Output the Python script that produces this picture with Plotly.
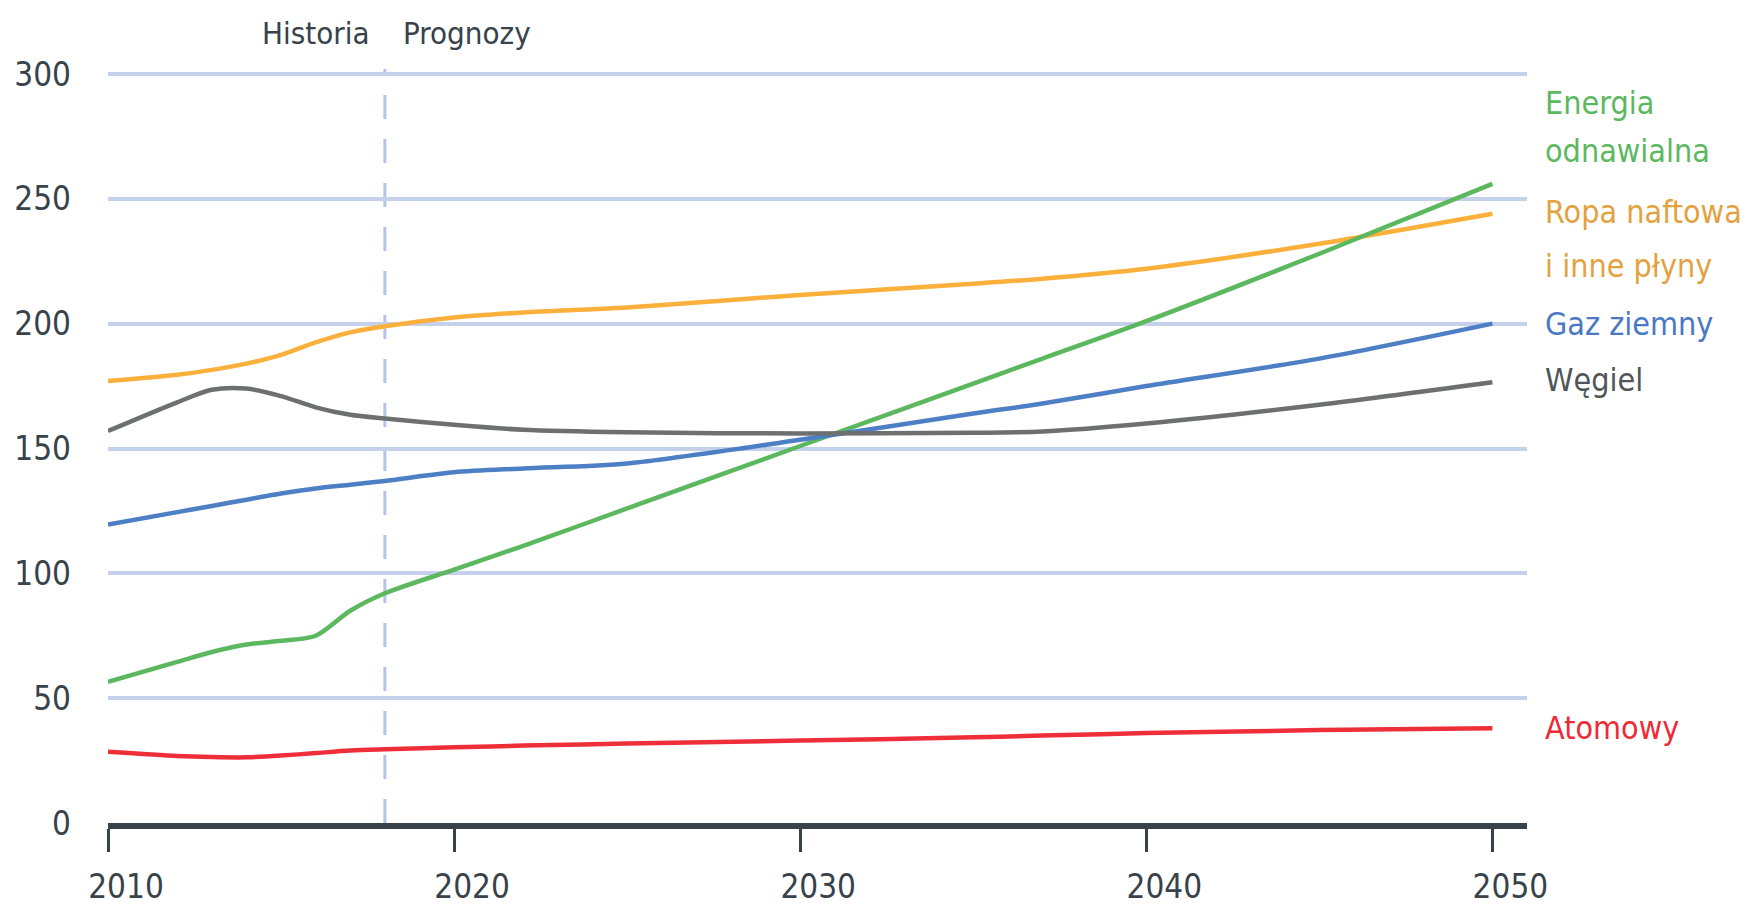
import plotly.graph_objects as go

# ---- data ----
years = [2010, 2012, 2013, 2014, 2015, 2016, 2017, 2018, 2020, 2022, 2025, 2030, 2035, 2037, 2040, 2045, 2050]
ropa = [177, 179.5, 181.5, 184, 187.5, 192.5, 196.5, 199, 202.5, 204.5, 206.5, 211.5, 216, 218, 222, 232, 244]
odnawialna = [56.5, 64.5, 68.5, 71.5, 73, 75, 85, 92, 101.5, 111, 126, 151, 176, 186, 201, 228, 256]
gaz = [119.5, 124.5, 127, 129.5, 132, 134, 135.5, 137, 140.5, 142, 144, 153.5, 164, 168, 175, 186, 200]
wegiel = [157, 168.5, 173.5, 174, 171, 166.5, 163.5, 162, 159.5, 157.5, 156.5, 156, 156.3, 156.8, 160, 167.5, 176.5]
atomowy = [28.5, 26.8, 26.4, 26.3, 27, 28, 29, 29.5, 30.3, 31, 31.8, 33, 34.3, 35, 36, 37.2, 38]

series_names = ["Ropa naftowa", "Energia odnawialna", "Gaz ziemny", "Węgiel", "Atomowy"]
series_values = [ropa, odnawialna, gaz, wegiel, atomowy]
series_colors = ["#fbb03b", "#5cb85f", "#4d7fc4", "#6e6f71", "#ee2f3a"]

# right-hand labels, one entry per text line
label_lines = ["Energia", "odnawialna", "Ropa naftowa", "i inne płyny", "Gaz ziemny", "Węgiel", "Atomowy"]
label_colors = ["#5cb85f", "#5cb85f", "#e2a240", "#e2a240", "#4a78c4", "#505558", "#ee2a35"]
label_y = [288.4, 269.2, 244.8, 223.2, 200, 177.4, 38]

x_ticks = [2010, 2020, 2030, 2040, 2050]
y_ticks = [0, 50, 100, 150, 200, 250, 300]
split_year = 2018
header_left = "Historia"
header_right = "Prognozy"

FONT = "DejaVu Sans Condensed, Liberation Sans Narrow, Arial Narrow, sans-serif"
DARK = "#37424a"

fig = go.Figure()
for name, vals, col in zip(series_names, series_values, series_colors):
    fig.add_trace(go.Scatter(
        x=years, y=vals, mode="lines", name=name,
        line=dict(color=col, width=4.5, shape="spline", smoothing=0.8),
        hoverinfo="x+y+name",
    ))

# dashed split line
fig.add_shape(type="line", xref="x", yref="y", x0=split_year, x1=split_year, y0=0, y1=304,
              line=dict(color="#b3c4e6", width=3, dash="24px,20px"), layer="below")

# right labels
for txt, col, yv in zip(label_lines, label_colors, label_y):
    fig.add_annotation(xref="paper", yref="y", x=1, y=yv, xshift=16, text=txt,
                       showarrow=False, xanchor="left", yanchor="middle", align="left",
                       font=dict(family=FONT, size=32, color=col))

# headers
fig.add_annotation(xref="x", yref="paper", x=split_year, y=1, yshift=36, xshift=-13, text=header_left,
                   showarrow=False, xanchor="right", yanchor="middle",
                   font=dict(family=FONT, size=31, color=DARK))
fig.add_annotation(xref="x", yref="paper", x=split_year, y=1, yshift=36, xshift=16, text=header_right,
                   showarrow=False, xanchor="left", yanchor="middle",
                   font=dict(family=FONT, size=31, color=DARK))

fig.update_layout(
    width=1752, height=905,
    margin=dict(l=108, r=225, t=69, b=82),
    paper_bgcolor="white", plot_bgcolor="white",
    showlegend=False,
    font=dict(family=FONT, color=DARK),
)
fig.update_xaxes(
    range=[2010, 2051], tickvals=x_ticks, ticktext=[str(v) for v in x_ticks],
    showgrid=False, zeroline=False, automargin=False,
    showline=True, linecolor=DARK, linewidth=6,
    ticks="outside", ticklen=23, tickwidth=3, tickcolor=DARK,
    tickfont=dict(family=FONT, size=33, color=DARK),
    ticklabelshift=18, ticklabelstandoff=6,
)
fig.update_yaxes(
    range=[0, 302], tickvals=y_ticks, ticktext=[str(v) for v in y_ticks],
    showgrid=True, gridcolor="#c5d0ea", gridwidth=4, zeroline=False, automargin=False,
    showline=False, ticks="",
    tickfont=dict(family=FONT, size=33, color=DARK),
    ticklabelstandoff=36,
)

fig.write_html("out.html")
